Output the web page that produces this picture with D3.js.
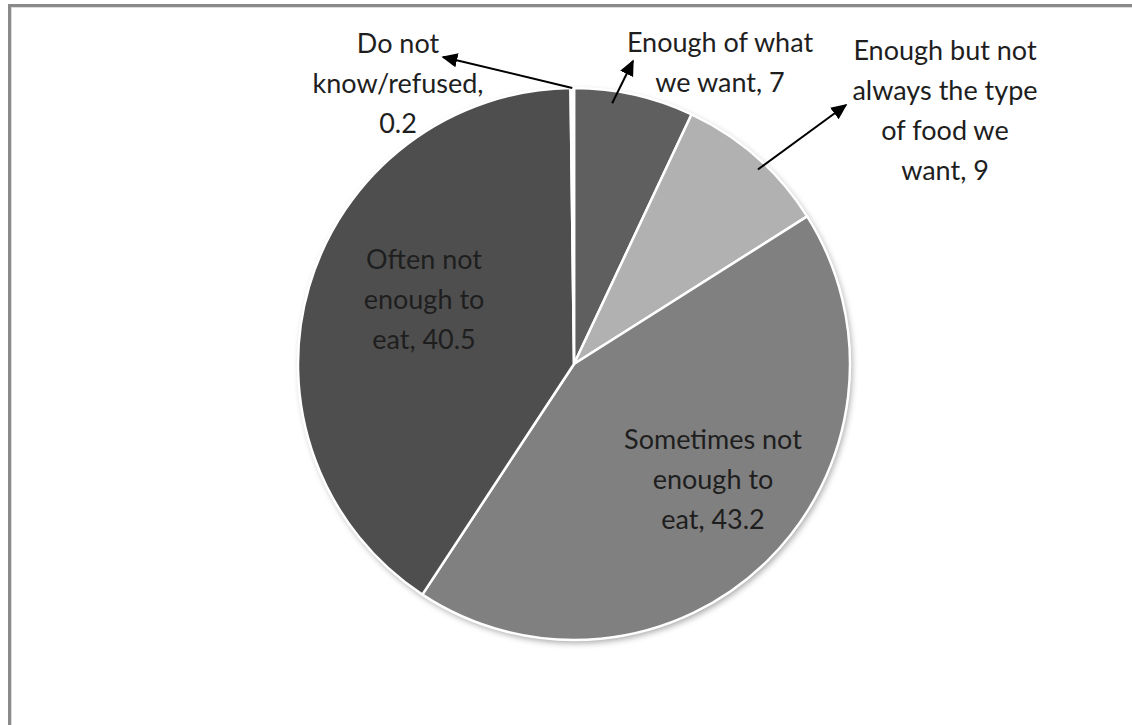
<!DOCTYPE html>
<html>
<head>
<meta charset="utf-8">
<script src="https://cdn.jsdelivr.net/npm/d3@7/dist/d3.min.js"></script>
<style>
	html, body { margin:0; padding:0; background:#fff; }
	svg { display:block; }
	text { font-family: Lato, "Open Sans", sans-serif; fill:#1e1e1e; }
</style>
</head>
<body>
<div id="chart"></div>
<script>
	// slices, clockwise from 12 o'clock
	var categories = ["Enough of what we want", "Enough but not always the type of food we want",
		"Sometimes not enough to eat", "Often not enough to eat", "Do not know/refused"];
	var values = [7, 9, 43.2, 40.5, 0.2];
	var labelLines = [
		["Enough of what", "we want, 7"],
		["Enough but not", "always the type", "of food we", "want, 9"],
		["Sometimes not", "enough to", "eat, 43.2"],
		["Often not", "enough to", "eat, 40.5"],
		["Do not", "know/refused,", "0.2"]
	];
	var greys = ["#5f5f5f", "#b1b1b1", "#808080", "#4e4e4e", "#ffffff"];

	// layout of labels: centre x, first line y; arrow = [t within slice, radius frac, tip x, tip y]
	var labelPos = [
		{x:720, y:43, arrow:[0.33, 0.955, 633, 61]},
		{x:945, y:51, arrow:[0.56, 0.97, 846, 105]},
		{x:713, y:440},
		{x:424, y:260},
		{x:398, y:44, arrow:[0.5, 1.0, 443, 57]}
	];

	var W = 1132, H = 725;
	var cx = 574, cy = 364, r = 276;
	var lineH = 40;

	var svg = d3.select("#chart").append("svg")
		.attr("width", W)
		.attr("height", H);

	var defs = svg.append("defs");
	var f = defs.append("filter").attr("id", "shadow")
		.attr("x", "-10%").attr("y", "-10%").attr("width", "120%").attr("height", "120%");
	f.append("feDropShadow")
		.attr("dx", 2).attr("dy", 3)
		.attr("stdDeviation", 3)
		.attr("flood-color", "#000")
		.attr("flood-opacity", 0.35);
	defs.append("marker")
		.attr("id", "arrow")
		.attr("viewBox", "0 0 10 10")
		.attr("refX", 9).attr("refY", 5)
		.attr("markerWidth", 8).attr("markerHeight", 8)
		.attr("markerUnits", "strokeWidth")
		.attr("orient", "auto")
		.append("path")
		.attr("d", "M0,0.5 L10,5 L0,9.5 Z")
		.attr("fill", "#000");

	// frame
	svg.append("rect")
		.attr("x", 9.5).attr("y", 5.5)
		.attr("width", W + 20).attr("height", H + 20)
		.attr("fill", "none")
		.attr("stroke", "#8a8a8a")
		.attr("stroke-width", 3);
	svg.append("rect")
		.attr("x", 11.5).attr("y", 7.5)
		.attr("width", W + 20).attr("height", H + 20)
		.attr("fill", "none")
		.attr("stroke", "#dcdcdc")
		.attr("stroke-width", 1);

	var pie = d3.pie().sort(null).value(function(d){ return d; });
	var arcs = pie(values);
	var arc = d3.arc().innerRadius(0).outerRadius(r);

	var g = svg.append("g").attr("transform", "translate(" + cx + "," + cy + ")");

	g.append("circle")
		.attr("r", r)
		.attr("fill", "#fff")
		.attr("filter", "url(#shadow)");

	g.selectAll("path.slice")
		.data(arcs)
		.enter().append("path")
		.attr("class", "slice")
		.attr("d", arc)
		.attr("fill", function(d, i){ return greys[i]; })
		.attr("stroke", "#ffffff")
		.attr("stroke-width", 2.5)
		.attr("stroke-linejoin", "round");

	// arrows
	arcs.forEach(function(a, i){
		var p = labelPos[i];
		if (!p.arrow) return;
		var ang = a.startAngle + p.arrow[0] * (a.endAngle - a.startAngle);
		var rr = r * p.arrow[1];
		var sx = cx + rr * Math.sin(ang);
		var sy = cy - rr * Math.cos(ang);
		svg.append("line")
			.attr("x1", sx).attr("y1", sy)
			.attr("x2", p.arrow[2]).attr("y2", p.arrow[3])
			.attr("stroke", "#000")
			.attr("stroke-width", 2)
			.attr("marker-end", "url(#arrow)");
	});

	// labels
	labelLines.forEach(function(lines, i){
		var p = labelPos[i];
		var t = svg.append("text")
			.attr("text-anchor", "middle")
			.attr("font-size", "27px");
		lines.forEach(function(s, k){
			t.append("tspan")
				.attr("x", p.x)
				.attr("y", p.y + k * lineH)
				.attr("dy", "0.35em")
				.text(s);
		});
	});
</script>
</body>
</html>
